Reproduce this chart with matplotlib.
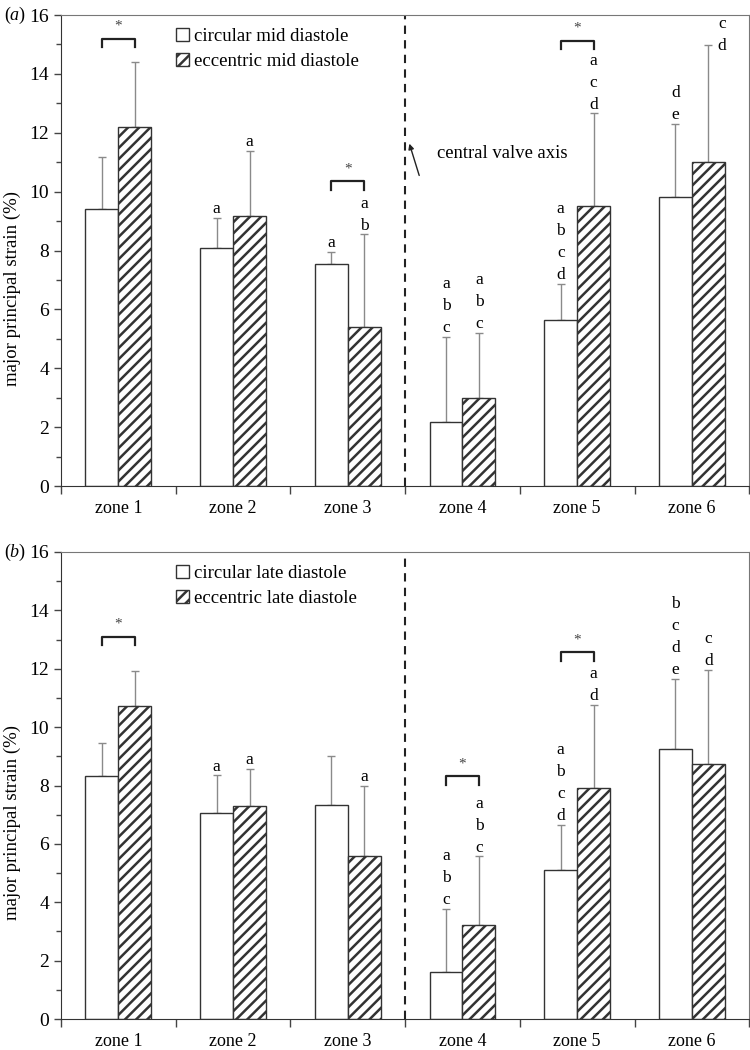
import matplotlib
matplotlib.use("Agg")
import matplotlib.pyplot as plt
from matplotlib.ticker import FixedLocator, NullFormatter, FixedFormatter

plt.rcParams["font.family"] = ["Liberation Serif", "DejaVu Serif"]
plt.rcParams["hatch.linewidth"] = 1.8
plt.rcParams["mathtext.fontset"] = "custom"
plt.rcParams["mathtext.it"] = "Liberation Serif:italic"

zones = ["zone 1", "zone 2", "zone 3", "zone 4", "zone 5", "zone 6"]

# (a) mid diastole
circ_mid = [9.41, 8.08, 7.53, 2.16, 5.63, 9.83]
circ_mid_sd = [1.77, 1.02, 0.43, 2.91, 1.23, 2.47]
ecc_mid = [12.2, 9.17, 5.39, 2.99, 9.52, 11.0]
ecc_mid_sd = [2.21, 2.22, 3.16, 2.22, 3.14, 3.98]
circ_mid_letters = ["", "a", "a", "abc", "abcd", "de"]
ecc_mid_letters = ["", "a", "ab", "abc", "acd", "cd"]
mid_brackets = {0: 15.2, 2: 10.36, 4: 15.13}

# (b) late diastole
circ_late = [8.31, 7.06, 7.34, 1.60, 5.10, 9.26]
circ_late_sd = [1.14, 1.29, 1.67, 2.18, 1.56, 2.40]
ecc_late = [10.71, 7.30, 5.57, 3.21, 7.92, 8.73]
ecc_late_sd = [1.20, 1.28, 2.43, 2.36, 2.85, 3.23]
circ_late_letters = ["", "a", "", "abc", "abcd", "bcde"]
ecc_late_letters = ["", "a", "a", "abc", "ad", "cd"]
late_brackets = {0: 13.1, 3: 8.31, 4: 12.57}

W = 0.287
EDGE = "#333333"
ERRC = "#8a8a8a"


def draw_letters(ax, x, top, letters, side=False):
    if not letters:
        return
    txt = "\n".join(letters)
    if side:
        # too high: put beside the cap
        ax.annotate(txt, (x, top), xytext=(10, 7), textcoords="offset points",
                    ha="center", va="center", fontsize=12.5, linespacing=1.5)
    else:
        ax.annotate(txt, (x, top), xytext=(0, 0.5), textcoords="offset points",
                    ha="center", va="bottom", fontsize=12.5, linespacing=1.5)


def panel(ax, circ, circ_sd, ecc, ecc_sd, circ_let, ecc_let, brackets, labels, tag):
    xs = list(range(1, len(zones) + 1))
    xc = [x - W / 2 for x in xs]
    xe = [x + W / 2 for x in xs]
    ax.bar(xc, circ, W, color="white", edgecolor=EDGE, linewidth=1.0, label=labels[0], zorder=2)
    ax.bar(xe, ecc, W, color="white", edgecolor=EDGE, hatch="///", linewidth=1.0,
           label=labels[1], zorder=2)
    ax.errorbar(xc, circ, yerr=[[0] * 6, circ_sd], fmt="none", ecolor=ERRC,
                elinewidth=1.0, capsize=3, capthick=1.0, zorder=1)
    ax.errorbar(xe, ecc, yerr=[[0] * 6, ecc_sd], fmt="none", ecolor=ERRC,
                elinewidth=1.0, capsize=3, capthick=1.0, zorder=1)

    for i in range(len(zones)):
        tc = circ[i] + circ_sd[i]
        te = ecc[i] + ecc_sd[i]
        draw_letters(ax, xc[i], tc, circ_let[i])
        draw_letters(ax, xe[i], te, ecc_let[i], side=(te > 14.5 and ecc_let[i] != ""))

    for i, yb in brackets.items():
        ax.plot([xc[i], xc[i], xe[i], xe[i]], [yb - 0.3, yb, yb, yb - 0.3],
                color="#222222", linewidth=1.6, zorder=3)
        ax.text(xs[i], yb + 0.2, "*", ha="center", va="bottom", fontsize=11, color="#444444")

    ax.axvline(3.5, color="#222222", linestyle=(0, (4, 3)), linewidth=1.5, zorder=1)

    ax.set_xlim(0.5, 6.5)
    ax.set_ylim(0, 16)
    ax.set_yticks(range(0, 17, 2))
    ax.yaxis.set_minor_locator(FixedLocator(range(1, 17, 2)))
    ax.xaxis.set_major_locator(FixedLocator([0.5 + k for k in range(7)]))
    ax.xaxis.set_major_formatter(NullFormatter())
    ax.xaxis.set_minor_locator(FixedLocator(xs))
    ax.xaxis.set_minor_formatter(FixedFormatter(zones))
    ax.tick_params(axis="x", which="major", length=6, width=1.0, color="#444444")
    ax.tick_params(axis="x", which="minor", length=0, pad=10, labelsize=13)
    ax.tick_params(axis="y", which="major", length=5, width=1.0, labelsize=14, color="#444444")
    ax.tick_params(axis="y", which="minor", length=3.5, width=1.0, color="#444444")
    for s in ["left", "bottom"]:
        ax.spines[s].set_color("#333333")
    for s in ["top", "right"]:
        ax.spines[s].set_color("#777777")
    ax.set_ylabel("major principal strain (%)", fontsize=13.5)
    ax.yaxis.set_label_coords(-0.058, 0.42)
    ax.legend(loc="upper left", bbox_to_anchor=(0.143, 1.008), frameon=False,
              handlelength=0.7, handleheight=0.7, handletextpad=0.25,
              labelspacing=0.4, fontsize=13.5)
    ax.text(-0.083, 1.0, tag, transform=ax.transAxes, ha="left", va="center", fontsize=13)


fig = plt.figure(figsize=(7.5, 10.5), dpi=100)
ax1 = fig.add_axes([0.0813, 0.5371, 0.9177, 0.4486])
ax2 = fig.add_axes([0.0813, 0.0295, 0.9177, 0.4448])

panel(ax1, circ_mid, circ_mid_sd, ecc_mid, ecc_mid_sd, circ_mid_letters, ecc_mid_letters,
      mid_brackets, ["circular mid diastole", "eccentric mid diastole"], "($\\it{a}$)")
panel(ax2, circ_late, circ_late_sd, ecc_late, ecc_late_sd, circ_late_letters, ecc_late_letters,
      late_brackets, ["circular late diastole", "eccentric late diastole"], "($\\it{b}$)")

ax1.annotate("", xy=(3.53, 11.72), xytext=(3.63, 10.46),
             arrowprops=dict(arrowstyle="-|>", color="#222222", lw=1.0, mutation_scale=8))
ax1.text(3.78, 11.3, "central valve axis", ha="left", va="center", fontsize=13.4)

fig.savefig("out.png", dpi=100)
